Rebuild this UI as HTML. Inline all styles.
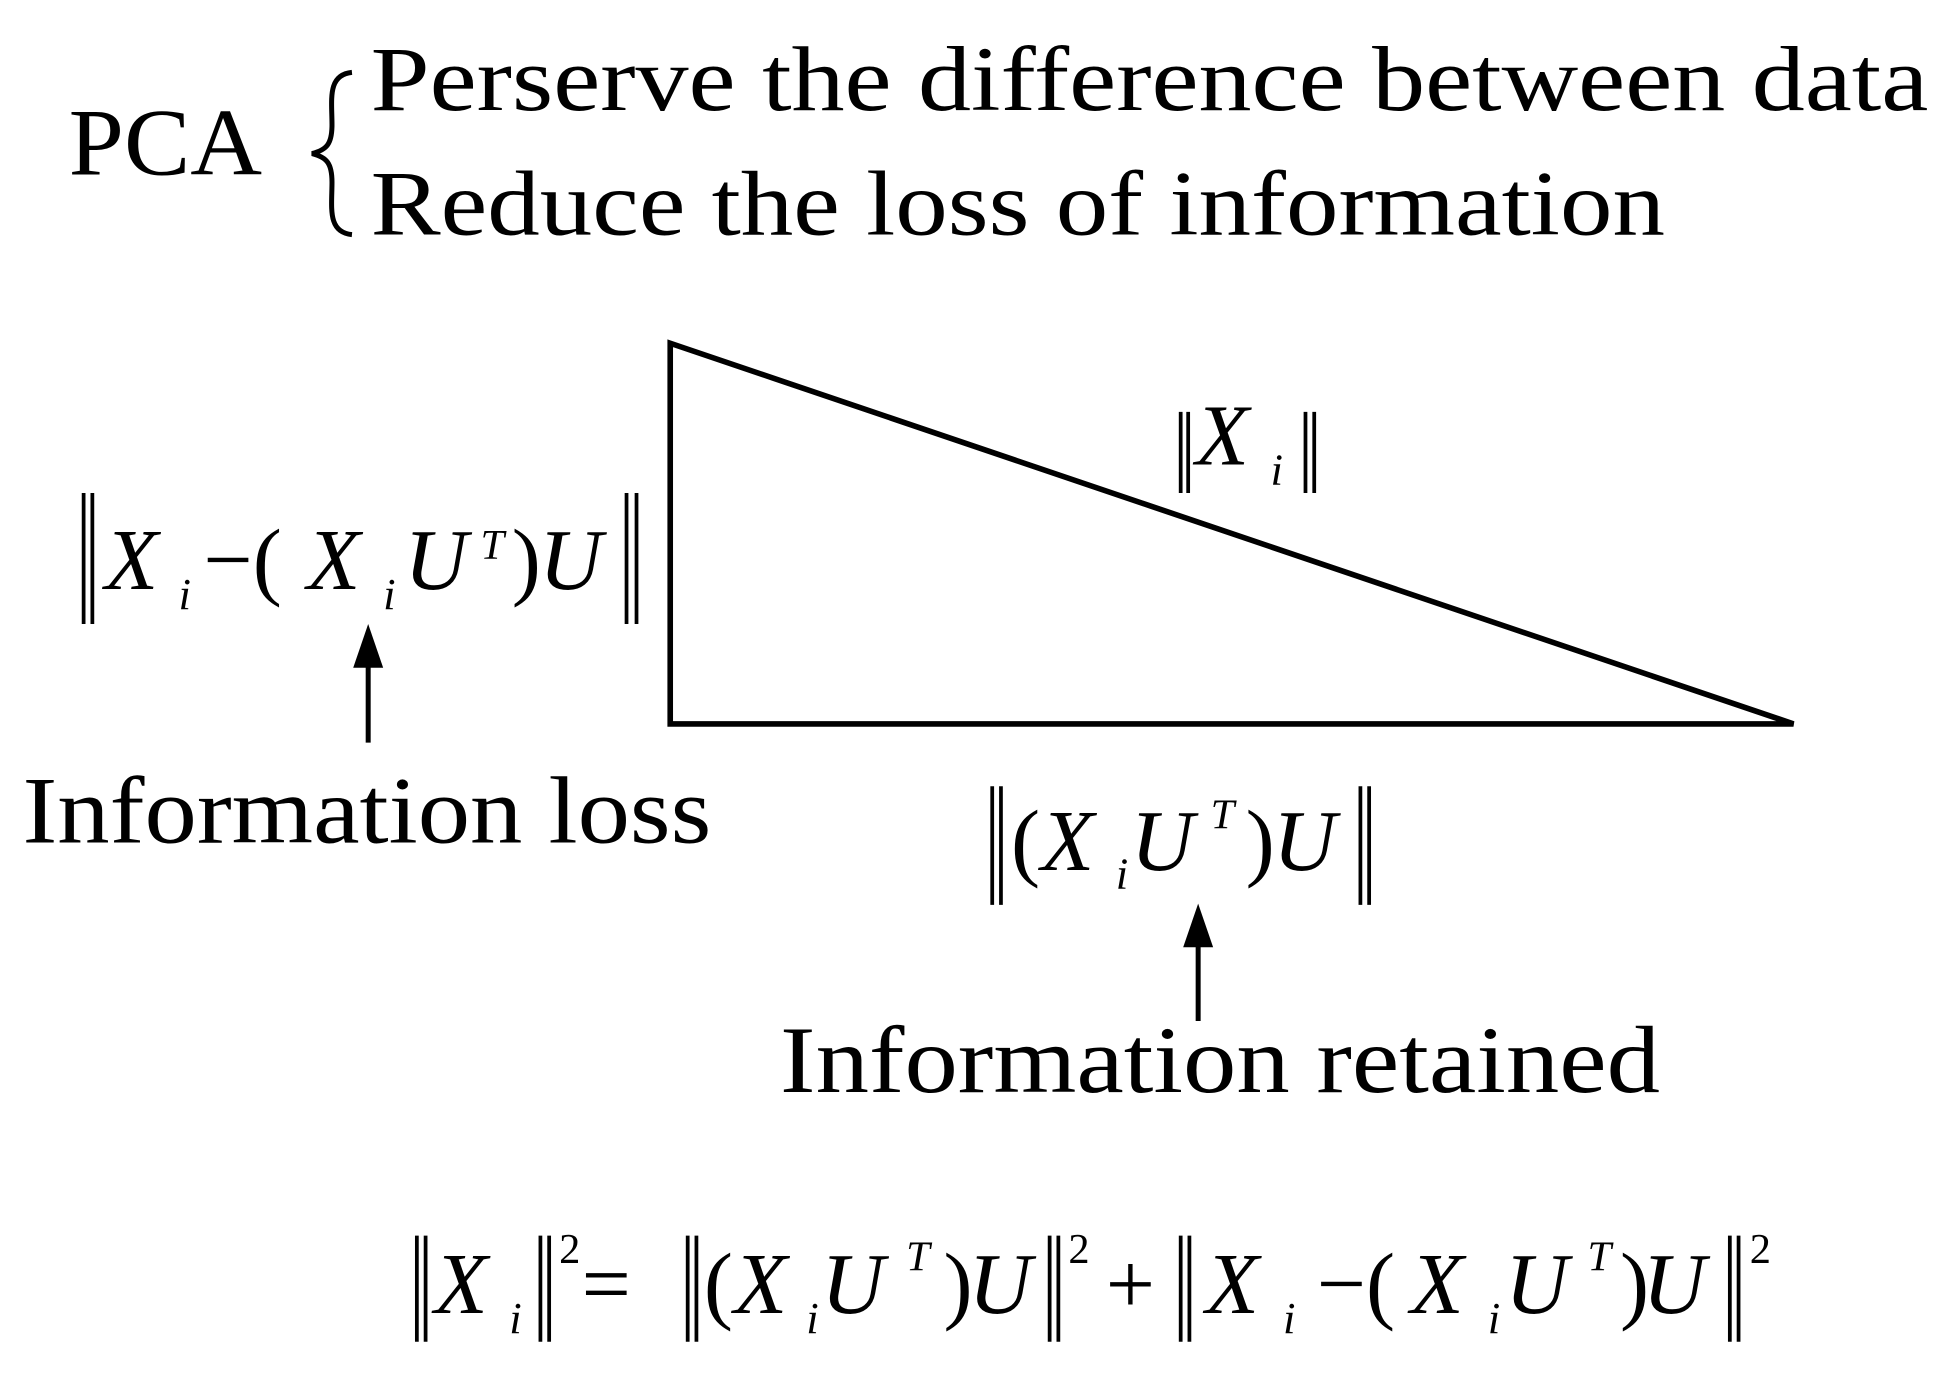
<!DOCTYPE html>
<html><head><meta charset="utf-8"><style>html,body{margin:0;padding:0;background:#fff}svg{display:block}</style></head>
<body>
<svg width="1947" height="1397" viewBox="0 0 1560 1119.3" xmlns="http://www.w3.org/2000/svg">
<g font-family="Liberation Serif, serif" fill="#000">
<text x="55" y="140" font-size="76" textLength="155" lengthAdjust="spacingAndGlyphs">PCA</text>
<text x="297" y="88" font-size="74" textLength="1248" lengthAdjust="spacingAndGlyphs">Perserve the difference between data</text>
<text x="297" y="188" font-size="74" textLength="1037" lengthAdjust="spacingAndGlyphs">Reduce the loss of information</text>
<path d="M282,58 C262,60 266,80 266,100 C266,115 262,120 250,123 C262,126 266,131 266,146 C266,166 262,186 282,188" fill="none" stroke="#000" stroke-width="4"/>
<text x="18" y="675" font-size="76" textLength="552" lengthAdjust="spacingAndGlyphs">Information loss</text>
<text x="625" y="875" font-size="76" textLength="705" lengthAdjust="spacingAndGlyphs">Information retained</text>
</g>
<polygon points="537,275 537,580 1437,580" fill="none" stroke="#000" stroke-width="4.5" stroke-linejoin="miter"/>
<g stroke="#000" stroke-width="4">
<line x1="295" y1="595" x2="295" y2="530"/>
<line x1="960" y1="818" x2="960" y2="755"/>
</g>
<polygon points="295,500 283,535 307,535"/>
<polygon points="960,724 948,759 972,759"/>
<g stroke="#000" stroke-width="3">
<line x1="67" y1="395" x2="67" y2="500"/><line x1="74" y1="395" x2="74" y2="500"/>
<line x1="502" y1="395" x2="502" y2="500"/><line x1="510" y1="395" x2="510" y2="500"/>
<line x1="946" y1="330" x2="946" y2="395"/><line x1="952" y1="330" x2="952" y2="395"/>
<line x1="1046" y1="330" x2="1046" y2="395"/><line x1="1053" y1="330" x2="1053" y2="395"/>
<line x1="795" y1="630" x2="795" y2="725"/><line x1="802" y1="630" x2="802" y2="725"/>
<line x1="1090" y1="630" x2="1090" y2="725"/><line x1="1097" y1="630" x2="1097" y2="725"/>
<line x1="334" y1="990" x2="334" y2="1075"/><line x1="341" y1="990" x2="341" y2="1075"/>
<line x1="433" y1="990" x2="433" y2="1075"/><line x1="440" y1="990" x2="440" y2="1075"/>
<line x1="551" y1="990" x2="551" y2="1075"/><line x1="558" y1="990" x2="558" y2="1075"/>
<line x1="841" y1="990" x2="841" y2="1075"/><line x1="848" y1="990" x2="848" y2="1075"/>
<line x1="946" y1="990" x2="946" y2="1075"/><line x1="953" y1="990" x2="953" y2="1075"/>
<line x1="1386" y1="990" x2="1386" y2="1075"/><line x1="1393" y1="990" x2="1393" y2="1075"/>
</g>
<g font-family="Liberation Serif, serif" fill="#000" font-size="70">
<text x="84" y="472" font-style="italic">X</text>
<text x="143" y="488" font-size="36" font-style="italic">i</text>
<text x="163" y="472">−(</text>
<text x="246" y="472" font-style="italic">X</text>
<text x="307" y="488" font-size="36" font-style="italic">i</text>
<text x="324" y="472" font-style="italic">U</text>
<text x="385" y="448" font-size="34" font-style="italic">T</text>
<text x="410" y="472">)</text>
<text x="432" y="472" font-style="italic">U</text>

<text x="958" y="372" font-style="italic">X</text>
<text x="1018" y="388" font-size="36" font-style="italic">i</text>

<text x="810" y="697">(</text>
<text x="834" y="697" font-style="italic">X</text>
<text x="894" y="712" font-size="36" font-style="italic">i</text>
<text x="906" y="697" font-style="italic">U</text>
<text x="970" y="664" font-size="34" font-style="italic">T</text>
<text x="998" y="697">)</text>
<text x="1020" y="697" font-style="italic">U</text>

<text x="348" y="1052" font-style="italic">X</text>
<text x="408" y="1068" font-size="36" font-style="italic">i</text>
<text x="448" y="1012" font-size="34">2</text>
<text x="466" y="1052">=</text>
<text x="564" y="1052">(</text>
<text x="588" y="1052" font-style="italic">X</text>
<text x="646" y="1068" font-size="36" font-style="italic">i</text>
<text x="658" y="1052" font-style="italic">U</text>
<text x="726" y="1018" font-size="34" font-style="italic">T</text>
<text x="756" y="1052">)</text>
<text x="776" y="1052" font-style="italic">U</text>
<text x="856" y="1012" font-size="34">2</text>
<text x="886" y="1052">+</text>
<text x="966" y="1052" font-style="italic">X</text>
<text x="1028" y="1068" font-size="36" font-style="italic">i</text>
<text x="1055" y="1052">−(</text>
<text x="1130" y="1052" font-style="italic">X</text>
<text x="1192" y="1068" font-size="36" font-style="italic">i</text>
<text x="1206" y="1052" font-style="italic">U</text>
<text x="1272" y="1018" font-size="34" font-style="italic">T</text>
<text x="1298" y="1052">)</text>
<text x="1316" y="1052" font-style="italic">U</text>
<text x="1402" y="1012" font-size="34">2</text>
</g>
</svg>
</body></html>
